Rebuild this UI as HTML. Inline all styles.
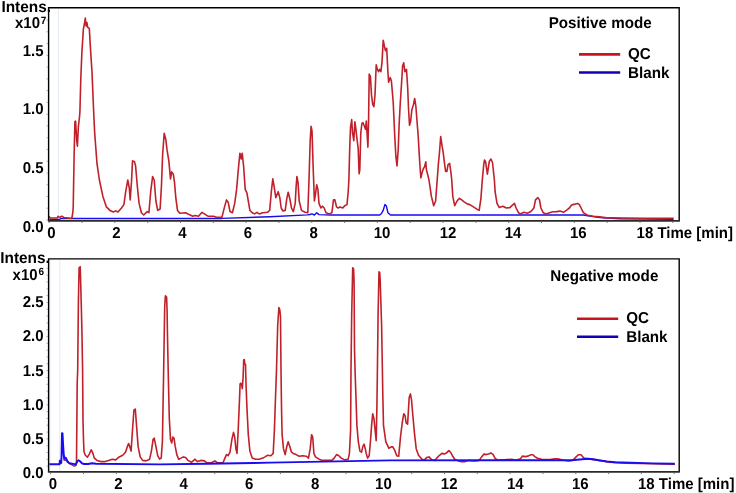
<!DOCTYPE html>
<html><head><meta charset="utf-8"><style>
html,body{margin:0;padding:0;background:#fff;width:736px;height:493px;overflow:hidden}
svg{display:block}

</style></head><body>
<svg width="736" height="493" viewBox="0 0 736 493"><rect width="736" height="493" fill="#fff"/><line x1="58.3" y1="8.8" x2="58.3" y2="219.8" stroke="#e2e9f5" stroke-width="1"/><polyline points="49.2,219.5 59.5,219.5 61,218.4 72,218.4 160,218.4 222,218.4 270,216.8 307.4,214.9 310,214.5 312,213.9 314.4,215 316.7,212.7 319,214.6 330.7,215 379.7,215 381.5,213.5 383.2,210.4 384.9,204.6 386.3,205.7 387.9,212.7 390.5,215 500,215 583.4,215 588,215.8 600,217.5 620,218.8 673.6,219.2" fill="none" stroke="#1a0cf0" stroke-width="1.45" stroke-linejoin="round"/><polyline points="49.2,216.2 50,218 57.3,218 58,216.3 59,217 60.2,217.2 61.5,216.2 62.5,216.6 64,217.5 70,218.3 71.8,218.5 72.6,214 73.2,208 74.1,156.7 74.9,121.7 75.6,121.2 76.7,140.4 77.4,146.2 78.4,126.3 79.5,117 79.9,112 80.8,78.7 81.9,51.9 83.4,29 84.4,24 85.3,18 86.1,26 86.9,22.5 87.7,27.3 89.3,28.4 90.4,47.4 92,72 93.8,115 94.7,133.3 97,163.7 99.4,180 102.9,196.4 106.4,206.9 109.9,210.4 113.4,212 115.7,210.9 118,212 121.5,208 123.9,204.6 125.7,191.7 127.8,180 129.3,188.2 130.2,199.9 131.6,180 132.5,160.9 134.4,161.4 135.6,166 137.4,187 139.1,203.4 141.4,212.7 143.7,215 147.2,211.6 148.9,212.7 150.7,191.7 152.6,176.5 154.2,180 155.9,201 157.7,210.4 160.1,209 161.5,185 162.6,155 164.2,133.3 165.8,139.5 167,149.7 168.9,161.4 170.5,178.9 171.7,171.9 173.3,174.2 174.5,182.4 175.9,198.7 177.5,210.4 179.8,213.2 185.7,212.7 189.2,214.6 192.7,216.2 195,215.5 198.5,216.2 202,212.3 204.4,213.9 207.9,216.2 213.7,216.2 217.2,217.4 221.9,217.4 224.2,208.1 226.5,199.9 228.2,202.2 230,211.6 232.4,212.7 234.7,203.4 236.6,189.4 238.2,170.7 239.9,153.2 241.3,159 242.2,153.2 243.6,166 245.2,189.4 246.9,192.9 248.3,201 249.9,210.4 252.2,212.7 254.6,213.9 256.9,212.3 259.2,213.9 262.7,212.7 267.4,212.3 269.7,210.4 271.4,191 272.8,178.9 274.2,187 275.8,197.6 278.2,191.7 279.8,197.6 281.2,208 282.8,210.9 285.2,210.4 286.8,198.7 288.2,192.2 289.8,198.7 291.5,208 293.3,211.6 295.2,203.4 296.1,187 296.9,176.5 298,182.4 299.2,201 301.5,210.4 305,212.3 307.8,212.7 309,180 310.2,140.4 311.1,126.3 312,131 313.2,168.4 314.4,201 315.5,194 316.7,184.7 317.9,189.4 319,203.4 320.9,208 322.5,206.2 324.2,208 326,212.7 329.5,213.9 331.9,212.7 333.5,199.9 334.9,199.9 336.5,206.9 338.2,208 340,206.9 342.8,208 344.7,205.7 347,204.6 348.2,191.7 348.9,179.5 349.7,148.7 350.5,127.6 351.7,119.5 352.5,132.5 353.8,140.6 354.9,121.9 355.9,129.2 357,139 358.2,148.7 359.1,173.8 359.8,169.8 360.8,132.5 361.9,123.5 363,122.7 364.3,126 365.5,129.2 366.3,121.1 367.3,137.3 367.9,147.1 368.6,119.5 369.2,74 370.4,76.4 371.5,95 372.7,104.4 373.9,106.7 375,95 376.2,64.7 377.4,69.4 378.5,71.7 379.7,69.4 380.9,71.7 382,62.4 383.2,40.2 384.4,46 385.5,50.7 386.7,48.3 387.9,71.7 388.6,82.2 390.2,77.5 391.4,81 393.2,102 394.7,135 395.9,156.7 397,166 398.2,150 399.1,125 400.2,104.4 401.4,85.7 402.6,65.9 403.7,62.8 404.9,71.7 406.5,69.4 407.7,88 408.5,108 409.5,125.2 410.7,121.1 411.8,110 413.5,104.4 414.7,98.5 415.9,106.7 417,121 418.2,136 419.1,151.9 420.1,168.2 420.9,177.9 422,173 423.2,169 424.5,166.9 425.8,161.7 426.4,169.8 427.7,174.6 429,180 431.4,196.4 433.7,205.7 435.6,201 437.2,180 438.3,164.9 439.4,153.5 440.7,136.5 442,145.4 443.1,151.9 444.3,161.7 445.6,171.4 446.9,171.4 448,164.9 449.6,163.3 450.8,171.4 451.7,179.5 452.8,196.4 454.7,205.7 457.1,201 459.4,198.3 461.7,199.9 464.1,201.8 467.6,204.1 469.9,204.6 473.4,206.9 476.9,209.2 479.2,210.4 480.9,198.7 482.3,180 483.7,164.9 484.5,160 485.5,161.4 487.4,174.2 489.3,161.4 490.9,159 492.5,162.5 494.4,180 495.1,191.7 497,203.4 499.3,207.6 502.8,206.2 506.3,208 509.8,207.6 512.2,205.3 514.5,203.4 516.1,208 518.5,212.7 520.4,213.9 523.9,212.3 527.4,213.2 530.9,211.6 533.9,208 535.5,199.9 537.9,197.6 539.5,199.9 540.9,208 543.2,212.7 546,213.9 549.5,212.7 553,211.8 556.5,211.6 560,211.1 563.5,212.3 567,209.9 569.4,208 571.3,205.3 572.9,204.6 575.2,204.1 577.6,203.4 579.4,204.6 581.1,208 583.4,212.7 586.9,215 592.7,216.2 599.7,216.9 606.7,217.9 610.4,217.8 624,218 644.3,218.2 673.6,218.2" fill="none" stroke="#c0202a" stroke-width="1.6" stroke-linejoin="round"/><path d="M48.6,220.8 V7.8 H679.2 V220.8" fill="none" stroke="#000" stroke-width="1.4"/><line x1="47.9" y1="220.8" x2="679.9" y2="220.8" stroke="#2a2a2a" stroke-width="1.7"/><line x1="46.5" y1="220.0" x2="47.9" y2="220.0" stroke="#999" stroke-width="0.9"/><line x1="46.5" y1="208.2" x2="47.9" y2="208.2" stroke="#999" stroke-width="0.9"/><line x1="46.5" y1="196.5" x2="47.9" y2="196.5" stroke="#999" stroke-width="0.9"/><line x1="46.5" y1="184.7" x2="47.9" y2="184.7" stroke="#999" stroke-width="0.9"/><line x1="46.5" y1="173.0" x2="47.9" y2="173.0" stroke="#999" stroke-width="0.9"/><line x1="46.5" y1="161.2" x2="47.9" y2="161.2" stroke="#999" stroke-width="0.9"/><line x1="46.5" y1="149.4" x2="47.9" y2="149.4" stroke="#999" stroke-width="0.9"/><line x1="46.5" y1="137.7" x2="47.9" y2="137.7" stroke="#999" stroke-width="0.9"/><line x1="46.5" y1="125.9" x2="47.9" y2="125.9" stroke="#999" stroke-width="0.9"/><line x1="46.5" y1="114.2" x2="47.9" y2="114.2" stroke="#999" stroke-width="0.9"/><line x1="46.5" y1="102.4" x2="47.9" y2="102.4" stroke="#999" stroke-width="0.9"/><line x1="46.5" y1="90.6" x2="47.9" y2="90.6" stroke="#999" stroke-width="0.9"/><line x1="46.5" y1="78.9" x2="47.9" y2="78.9" stroke="#999" stroke-width="0.9"/><line x1="46.5" y1="67.1" x2="47.9" y2="67.1" stroke="#999" stroke-width="0.9"/><line x1="46.5" y1="55.4" x2="47.9" y2="55.4" stroke="#999" stroke-width="0.9"/><line x1="46.5" y1="43.6" x2="47.9" y2="43.6" stroke="#999" stroke-width="0.9"/><line x1="46.5" y1="31.8" x2="47.9" y2="31.8" stroke="#999" stroke-width="0.9"/><line x1="46.5" y1="20.1" x2="47.9" y2="20.1" stroke="#999" stroke-width="0.9"/><line x1="49.2" y1="221.60000000000002" x2="49.2" y2="223.0" stroke="#666" stroke-width="0.9"/><line x1="82.0" y1="221.60000000000002" x2="82.0" y2="223.0" stroke="#666" stroke-width="0.9"/><line x1="114.8" y1="221.60000000000002" x2="114.8" y2="223.0" stroke="#666" stroke-width="0.9"/><line x1="147.7" y1="221.60000000000002" x2="147.7" y2="223.0" stroke="#666" stroke-width="0.9"/><line x1="180.5" y1="221.60000000000002" x2="180.5" y2="223.0" stroke="#666" stroke-width="0.9"/><line x1="213.3" y1="221.60000000000002" x2="213.3" y2="223.0" stroke="#666" stroke-width="0.9"/><line x1="246.1" y1="221.60000000000002" x2="246.1" y2="223.0" stroke="#666" stroke-width="0.9"/><line x1="278.9" y1="221.60000000000002" x2="278.9" y2="223.0" stroke="#666" stroke-width="0.9"/><line x1="311.8" y1="221.60000000000002" x2="311.8" y2="223.0" stroke="#666" stroke-width="0.9"/><line x1="344.6" y1="221.60000000000002" x2="344.6" y2="223.0" stroke="#666" stroke-width="0.9"/><line x1="377.4" y1="221.60000000000002" x2="377.4" y2="223.0" stroke="#666" stroke-width="0.9"/><line x1="410.2" y1="221.60000000000002" x2="410.2" y2="223.0" stroke="#666" stroke-width="0.9"/><line x1="443.0" y1="221.60000000000002" x2="443.0" y2="223.0" stroke="#666" stroke-width="0.9"/><line x1="475.9" y1="221.60000000000002" x2="475.9" y2="223.0" stroke="#666" stroke-width="0.9"/><line x1="508.7" y1="221.60000000000002" x2="508.7" y2="223.0" stroke="#666" stroke-width="0.9"/><line x1="541.5" y1="221.60000000000002" x2="541.5" y2="223.0" stroke="#666" stroke-width="0.9"/><line x1="574.3" y1="221.60000000000002" x2="574.3" y2="223.0" stroke="#666" stroke-width="0.9"/><line x1="607.1" y1="221.60000000000002" x2="607.1" y2="223.0" stroke="#666" stroke-width="0.9"/><line x1="640.0" y1="221.60000000000002" x2="640.0" y2="223.0" stroke="#666" stroke-width="0.9"/><line x1="672.8" y1="221.60000000000002" x2="672.8" y2="223.0" stroke="#666" stroke-width="0.9"/><line x1="49.9" y1="259.9" x2="49.9" y2="470.9" stroke="#e2e9f5" stroke-width="1"/><line x1="59.8" y1="259.9" x2="59.8" y2="470.9" stroke="#e2e9f5" stroke-width="1"/><polyline points="63.5,460 66.7,460.4 70.2,463.9 73.7,465.8 74.5,466.1 75.9,465.4 76.5,462 77.2,383.3 77.7,370 78.4,301.7 79.1,267.8 80.2,266.7 80.7,283 81.9,329.7 82.6,370 83,420 83.5,440 84,451.8 85.4,455.2 87.4,457.2 89.5,453.8 91.2,449.8 92.9,453.2 94.2,457.9 97,460.4 100.5,461.6 105.2,461.6 108.7,460.4 112.2,459.2 115.7,459.9 119.2,456.9 122.7,455.3 125.5,452.2 127.4,446.4 128.6,443.6 129.7,446.4 131.1,451.1 132.5,430 133.9,410.2 135.3,409 136.7,427.7 138.1,446.4 140.2,456.9 142.6,460.4 146.1,460.9 149.6,459.2 151.4,451.1 153.1,439.4 154.2,438.2 155.9,446.4 157.7,455.7 159.6,459.2 161.2,458.1 162.4,441.7 163.5,380 164.7,306.4 165.4,295.9 166.6,297 167.1,311 167.5,336.7 168.4,380 169.3,418.4 170.5,439.4 171.7,442.9 172.8,437 174,438.2 175.2,446.4 176.8,454.6 178.7,459.2 181,458.1 183.3,456.9 185.7,457.6 188,460.4 191.5,462.3 195,459.2 197.4,461.6 200.9,460.4 204.4,460.9 206.7,462.7 211.4,462.7 214.9,460.9 217.2,462.7 223,462.7 224.9,458.1 226.5,454.6 228.2,455.7 230,452.2 231.9,439.4 233.5,432.4 234.7,437 235.9,448.7 237,453.4 238.2,430 239.5,399.6 240.1,383.8 240.9,383.2 241.7,385 242.3,388.7 243.1,377.7 243.7,360.1 244.3,359.5 244.9,364.3 245.5,364.3 245.8,376.5 246.2,388.7 246.9,406.7 248.3,434.7 249.9,451.1 252.2,458.1 255.7,459.2 259.2,459.2 262.7,458.1 265.1,456.9 267.4,455.3 270.9,455.7 273.2,453.4 274.4,430 275.6,395 276.5,370 277.7,325 278.9,307.5 279.8,309.9 280.5,316.9 281,370 281.5,406.7 282.1,434.7 283.5,448.7 285.2,454.6 286.8,446.4 288.2,441.7 289.8,446.4 291.5,452.2 293.3,453.4 296.1,454.6 299.2,456.2 302.7,455.7 306.2,456.2 308.5,458.1 310.2,448.7 311.6,434.7 312.7,437 313.9,453.4 315.5,456.9 319,459.2 322.5,460.4 327.2,460.4 331.9,460.4 334.2,458.1 336.5,454.6 338.9,455.7 341.2,458.1 344.7,459.9 348.2,459.2 349.4,453.4 350.6,430 351,370 351.7,313.4 352.7,267.8 353.6,269 354.1,283 354.5,348.4 355.2,375 355.9,395 356.9,425.4 358.3,441.7 359.9,451.1 361.5,452.2 362.9,446.4 364.1,444.1 365.3,448.7 366.2,453.4 367.6,458.1 369.2,455.7 370.4,441.7 371.6,425.4 372.7,413.7 373.9,418.4 375.1,430 376.2,440.6 376.9,406.7 377.4,370 378.1,313.4 379,271.8 379.7,272.5 380.2,280.7 381.6,325 382.3,365 382.8,395 383.5,425.4 385.8,441.7 388.9,448.3 391.2,446.9 392.8,446.9 394.5,449.9 396.8,455.7 398.7,456.2 400.5,437 402.2,423 403.8,413.7 405.2,416 406.1,423 407.6,424.2 409.2,397.4 410.4,393.9 411.5,399.7 412.7,413.7 414.6,434.7 416.2,448.7 418.5,455.3 422,459.2 424.4,459.9 426.7,457.6 429,456.9 431.8,459.9 434.9,460.4 437.2,457.6 439.5,455.3 441.9,453.4 444.2,453.9 446.5,452.9 448.9,450.6 450.5,452.2 452.4,455.7 454.7,459.2 458.2,460.9 461.7,461.6 465.2,461.6 468.7,460.4 472.2,460.9 475.7,460.9 479.2,460.4 481.6,456.9 483.9,454.1 486.2,454.6 488.6,453.9 490.9,452.9 493.2,454.6 495.4,458.8 498.2,460.2 511.7,459.3 515.8,460.2 520.4,458.8 522.6,456.1 525.3,456.6 528,456.1 530.8,454.7 532.9,454.7 534.8,456.6 537.6,458.3 541.6,459.3 549.8,459.6 555.2,458.8 557.9,458.8 563.4,460.2 568.8,461 572.9,460.2 575.6,457.4 578.3,454.7 581,454.7 583.8,458 587.8,458.8 593.3,459.6 601.4,460.7 609.6,462.1 625.9,463.2 653,463.7 674.8,464.2" fill="none" stroke="#c0202a" stroke-width="1.6" stroke-linejoin="round"/><polyline points="49.4,464.2 59.6,464.2 59.8,460.6 60.6,460.6 61.2,463 61.6,455.2 62.0,433.2 62.5,433.4 63.1,445 63.8,455.2 64.2,458.9 65,457.6 66,458.2 66.7,459.6 67.7,462 69.4,463.3 73.2,463.9 75.9,464.4 77.3,461.3 78.6,460.3 80,461.3 82,463.3 84,464 88.1,464 92.2,463.3 96,463.7 160,464.4 206.7,463.8 253.4,463.0 270,462.6 390,460.4 490,460.2 571.5,460.2 582.4,459.3 587.8,458.8 593.3,459.3 598.7,460.2 606.8,461.5 615,462.3 653,463.4 674.8,463.7" fill="none" stroke="#1a0cf0" stroke-width="1.95" stroke-linejoin="round"/><path d="M48.6,471.9 V258.9 H679.2 V471.9" fill="none" stroke="#000" stroke-width="1.4"/><line x1="47.9" y1="471.9" x2="679.9" y2="471.9" stroke="#2a2a2a" stroke-width="1.7"/><line x1="46.5" y1="466.2" x2="47.9" y2="466.2" stroke="#999" stroke-width="0.9"/><line x1="46.5" y1="459.4" x2="47.9" y2="459.4" stroke="#999" stroke-width="0.9"/><line x1="46.5" y1="452.5" x2="47.9" y2="452.5" stroke="#999" stroke-width="0.9"/><line x1="46.5" y1="445.7" x2="47.9" y2="445.7" stroke="#999" stroke-width="0.9"/><line x1="46.5" y1="438.9" x2="47.9" y2="438.9" stroke="#999" stroke-width="0.9"/><line x1="46.5" y1="432.1" x2="47.9" y2="432.1" stroke="#999" stroke-width="0.9"/><line x1="46.5" y1="425.2" x2="47.9" y2="425.2" stroke="#999" stroke-width="0.9"/><line x1="46.5" y1="418.4" x2="47.9" y2="418.4" stroke="#999" stroke-width="0.9"/><line x1="46.5" y1="411.6" x2="47.9" y2="411.6" stroke="#999" stroke-width="0.9"/><line x1="46.5" y1="404.8" x2="47.9" y2="404.8" stroke="#999" stroke-width="0.9"/><line x1="46.5" y1="397.9" x2="47.9" y2="397.9" stroke="#999" stroke-width="0.9"/><line x1="46.5" y1="391.1" x2="47.9" y2="391.1" stroke="#999" stroke-width="0.9"/><line x1="46.5" y1="384.3" x2="47.9" y2="384.3" stroke="#999" stroke-width="0.9"/><line x1="46.5" y1="377.5" x2="47.9" y2="377.5" stroke="#999" stroke-width="0.9"/><line x1="46.5" y1="370.6" x2="47.9" y2="370.6" stroke="#999" stroke-width="0.9"/><line x1="46.5" y1="363.8" x2="47.9" y2="363.8" stroke="#999" stroke-width="0.9"/><line x1="46.5" y1="357.0" x2="47.9" y2="357.0" stroke="#999" stroke-width="0.9"/><line x1="46.5" y1="350.2" x2="47.9" y2="350.2" stroke="#999" stroke-width="0.9"/><line x1="46.5" y1="343.3" x2="47.9" y2="343.3" stroke="#999" stroke-width="0.9"/><line x1="46.5" y1="336.5" x2="47.9" y2="336.5" stroke="#999" stroke-width="0.9"/><line x1="46.5" y1="329.7" x2="47.9" y2="329.7" stroke="#999" stroke-width="0.9"/><line x1="46.5" y1="322.9" x2="47.9" y2="322.9" stroke="#999" stroke-width="0.9"/><line x1="46.5" y1="316.0" x2="47.9" y2="316.0" stroke="#999" stroke-width="0.9"/><line x1="46.5" y1="309.2" x2="47.9" y2="309.2" stroke="#999" stroke-width="0.9"/><line x1="46.5" y1="302.4" x2="47.9" y2="302.4" stroke="#999" stroke-width="0.9"/><line x1="46.5" y1="295.6" x2="47.9" y2="295.6" stroke="#999" stroke-width="0.9"/><line x1="46.5" y1="288.8" x2="47.9" y2="288.8" stroke="#999" stroke-width="0.9"/><line x1="46.5" y1="281.9" x2="47.9" y2="281.9" stroke="#999" stroke-width="0.9"/><line x1="46.5" y1="275.1" x2="47.9" y2="275.1" stroke="#999" stroke-width="0.9"/><line x1="46.5" y1="268.3" x2="47.9" y2="268.3" stroke="#999" stroke-width="0.9"/><line x1="50.6" y1="472.7" x2="50.6" y2="474.09999999999997" stroke="#666" stroke-width="0.9"/><line x1="83.5" y1="472.7" x2="83.5" y2="474.09999999999997" stroke="#666" stroke-width="0.9"/><line x1="116.3" y1="472.7" x2="116.3" y2="474.09999999999997" stroke="#666" stroke-width="0.9"/><line x1="149.1" y1="472.7" x2="149.1" y2="474.09999999999997" stroke="#666" stroke-width="0.9"/><line x1="181.9" y1="472.7" x2="181.9" y2="474.09999999999997" stroke="#666" stroke-width="0.9"/><line x1="214.8" y1="472.7" x2="214.8" y2="474.09999999999997" stroke="#666" stroke-width="0.9"/><line x1="247.6" y1="472.7" x2="247.6" y2="474.09999999999997" stroke="#666" stroke-width="0.9"/><line x1="280.4" y1="472.7" x2="280.4" y2="474.09999999999997" stroke="#666" stroke-width="0.9"/><line x1="313.2" y1="472.7" x2="313.2" y2="474.09999999999997" stroke="#666" stroke-width="0.9"/><line x1="346.0" y1="472.7" x2="346.0" y2="474.09999999999997" stroke="#666" stroke-width="0.9"/><line x1="378.8" y1="472.7" x2="378.8" y2="474.09999999999997" stroke="#666" stroke-width="0.9"/><line x1="411.7" y1="472.7" x2="411.7" y2="474.09999999999997" stroke="#666" stroke-width="0.9"/><line x1="444.5" y1="472.7" x2="444.5" y2="474.09999999999997" stroke="#666" stroke-width="0.9"/><line x1="477.3" y1="472.7" x2="477.3" y2="474.09999999999997" stroke="#666" stroke-width="0.9"/><line x1="510.1" y1="472.7" x2="510.1" y2="474.09999999999997" stroke="#666" stroke-width="0.9"/><line x1="543.0" y1="472.7" x2="543.0" y2="474.09999999999997" stroke="#666" stroke-width="0.9"/><line x1="575.8" y1="472.7" x2="575.8" y2="474.09999999999997" stroke="#666" stroke-width="0.9"/><line x1="608.6" y1="472.7" x2="608.6" y2="474.09999999999997" stroke="#666" stroke-width="0.9"/><line x1="641.4" y1="472.7" x2="641.4" y2="474.09999999999997" stroke="#666" stroke-width="0.9"/><line x1="674.2" y1="472.7" x2="674.2" y2="474.09999999999997" stroke="#666" stroke-width="0.9"/><g font-family="Liberation Sans, sans-serif" font-weight="bold" fill="#000" text-rendering="geometricPrecision" style="filter:grayscale(1)"><text transform="translate(1.40,12.10) scale(1,1.0260)" font-size="15.4" text-anchor="start">Intens.</text><text transform="translate(40.00,28.40) scale(1,1.0533)" font-size="15.0" text-anchor="end">x10</text><text transform="translate(40.70,23.50) scale(1,1.0500)" font-size="10" text-anchor="start">7</text><text transform="translate(43.50,231.90) scale(1,1.0533)" font-size="15.0" text-anchor="end">0.0</text><text transform="translate(43.50,173.17) scale(1,1.0533)" font-size="15.0" text-anchor="end">0.5</text><text transform="translate(43.50,114.44) scale(1,1.0533)" font-size="15.0" text-anchor="end">1.0</text><text transform="translate(43.50,55.71) scale(1,1.0533)" font-size="15.0" text-anchor="end">1.5</text><text transform="translate(47.20,238.05) scale(1,1.0533)" font-size="15.0" text-anchor="start">0</text><text transform="translate(112.20,238.05) scale(1,1.0533)" font-size="15.0" text-anchor="start">2</text><text transform="translate(178.30,238.05) scale(1,1.0533)" font-size="15.0" text-anchor="start">4</text><text transform="translate(243.80,238.05) scale(1,1.0533)" font-size="15.0" text-anchor="start">6</text><text transform="translate(309.60,238.05) scale(1,1.0533)" font-size="15.0" text-anchor="start">8</text><text transform="translate(373.70,238.05) scale(1,1.0533)" font-size="15.0" text-anchor="start">10</text><text transform="translate(439.70,238.05) scale(1,1.0533)" font-size="15.0" text-anchor="start">12</text><text transform="translate(504.70,238.05) scale(1,1.0533)" font-size="15.0" text-anchor="start">14</text><text transform="translate(570.00,238.05) scale(1,1.0533)" font-size="15.0" text-anchor="start">16</text><text transform="translate(636.60,238.05) scale(1,1.0533)" font-size="15.0" text-anchor="start">18 Time [min]</text><text transform="translate(548.70,27.70) scale(1,1.0395)" font-size="15.2" text-anchor="start">Positive mode</text><text transform="translate(628.00,59.40) scale(1,1.0395)" font-size="15.2" text-anchor="start">QC</text><text transform="translate(628.00,77.60) scale(1,1.0395)" font-size="15.2" text-anchor="start">Blank</text><text transform="translate(0.20,262.60) scale(1,1.0260)" font-size="15.4" text-anchor="start">Intens.</text><text transform="translate(37.60,279.60) scale(1,1.0533)" font-size="15.0" text-anchor="end">x10</text><text transform="translate(38.60,274.70) scale(1,1.0500)" font-size="10" text-anchor="start">6</text><text transform="translate(43.50,477.90) scale(1,1.0533)" font-size="15.0" text-anchor="end">0.0</text><text transform="translate(43.50,443.78) scale(1,1.0533)" font-size="15.0" text-anchor="end">0.5</text><text transform="translate(43.50,409.66) scale(1,1.0533)" font-size="15.0" text-anchor="end">1.0</text><text transform="translate(43.50,375.54) scale(1,1.0533)" font-size="15.0" text-anchor="end">1.5</text><text transform="translate(43.50,341.42) scale(1,1.0533)" font-size="15.0" text-anchor="end">2.0</text><text transform="translate(43.50,307.30) scale(1,1.0533)" font-size="15.0" text-anchor="end">2.5</text><text transform="translate(48.80,488.50) scale(1,1.0533)" font-size="15.0" text-anchor="start">0</text><text transform="translate(114.30,488.50) scale(1,1.0533)" font-size="15.0" text-anchor="start">2</text><text transform="translate(179.60,488.50) scale(1,1.0533)" font-size="15.0" text-anchor="start">4</text><text transform="translate(245.10,488.50) scale(1,1.0533)" font-size="15.0" text-anchor="start">6</text><text transform="translate(310.90,488.50) scale(1,1.0533)" font-size="15.0" text-anchor="start">8</text><text transform="translate(375.10,488.50) scale(1,1.0533)" font-size="15.0" text-anchor="start">10</text><text transform="translate(440.80,488.50) scale(1,1.0533)" font-size="15.0" text-anchor="start">12</text><text transform="translate(506.90,488.50) scale(1,1.0533)" font-size="15.0" text-anchor="start">14</text><text transform="translate(571.90,488.50) scale(1,1.0533)" font-size="15.0" text-anchor="start">16</text><text transform="translate(638.00,488.50) scale(1,1.0533)" font-size="15.0" text-anchor="start">18 Time [min]</text><text transform="translate(550.30,281.20) scale(1,1.0395)" font-size="15.2" text-anchor="start">Negative mode</text><text transform="translate(626.20,323.10) scale(1,1.0395)" font-size="15.2" text-anchor="start">QC</text><text transform="translate(626.20,341.90) scale(1,1.0395)" font-size="15.2" text-anchor="start">Blank</text></g><line x1="579" y1="54.4" x2="620.2" y2="54.4" stroke="#c8141e" stroke-width="2.6"/><line x1="579" y1="72.5" x2="620.2" y2="72.5" stroke="#1400b4" stroke-width="2.6"/><line x1="577" y1="318.8" x2="618.2" y2="318.8" stroke="#c8141e" stroke-width="2.6"/><line x1="577" y1="336.7" x2="618.2" y2="336.7" stroke="#1400b4" stroke-width="2.6"/></svg>
</body></html>
